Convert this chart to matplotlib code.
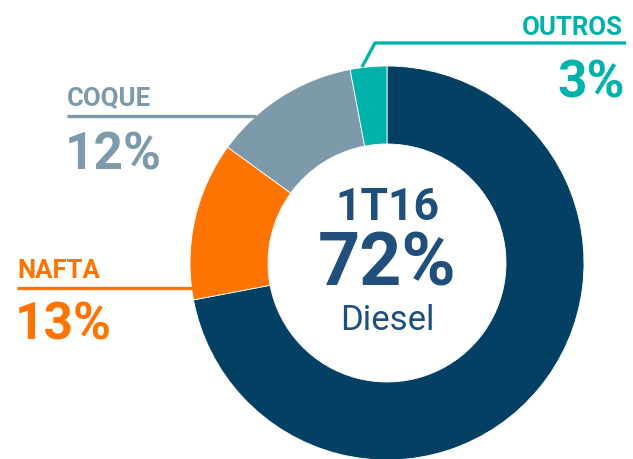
import matplotlib.pyplot as plt

# share by product, 1T16
categories = ["Diesel", "NAFTA", "COQUE", "OUTROS"]
shares = [72, 13, 12, 3]
colors = ["#034063", "#ff7300", "#7d9aab", "#00b2a9"]
period = "1T16"

W, H = 633, 459

fig = plt.figure(figsize=(W / 100, H / 100), dpi=100)
ax = fig.add_axes([0, 0, 1, 1])

cx, cy, r = 387, H - 263, 197
ax.pie(shares, colors=colors, startangle=90, counterclock=False,
       center=(cx, cy), radius=r,
       wedgeprops=dict(width=78, edgecolor="white", linewidth=0.6))

ax.set_xlim(0, W)
ax.set_ylim(0, H)
ax.set_aspect("equal")
ax.axis("off")

font = "Roboto"
center_col = "#1f4f7a"


def Y(y):
    # image y (top-down) -> data y
    return H - y


# centre text
ax.text(cx, Y(220), period, ha="center", va="baseline", fontsize=32,
        fontweight="bold", color=center_col, family=font)
ax.text(cx, Y(285), f"{shares[0]}%", ha="center", va="baseline", fontsize=53,
        fontweight="bold", color=center_col, family=font)
ax.text(cx, Y(330), categories[0], ha="center", va="baseline", fontsize=25,
        color=center_col, family=font)

# COQUE
ax.text(67, Y(106), categories[2], ha="left", va="baseline", fontsize=18.5,
        fontweight="bold", color=colors[2], family=font)
ax.plot([67, 256], [Y(116), Y(116)], color=colors[2], lw=2.4, solid_capstyle="butt")
ax.text(65, Y(170), f"{shares[2]}%", ha="left", va="baseline", fontsize=37,
        fontweight="bold", color=colors[2], family=font)

# NAFTA
ax.text(17, Y(278), categories[1], ha="left", va="baseline", fontsize=18.5,
        fontweight="bold", color=colors[1], family=font)
ax.plot([17, 193], [Y(288), Y(288)], color=colors[1], lw=2.4, solid_capstyle="butt")
ax.text(15, Y(340), f"{shares[1]}%", ha="left", va="baseline", fontsize=37,
        fontweight="bold", color=colors[1], family=font)

# OUTROS
ax.text(623, Y(35), categories[3], ha="right", va="baseline", fontsize=18.5,
        fontweight="bold", color=colors[3], family=font)
ax.plot([362, 375, 626], [Y(67), Y(43), Y(43)], color=colors[3], lw=2.4,
        solid_capstyle="butt")
ax.text(625, Y(98), f"{shares[3]}%", ha="right", va="baseline", fontsize=37,
        fontweight="bold", color=colors[3], family=font)

fig.savefig("out.png", dpi=100)
